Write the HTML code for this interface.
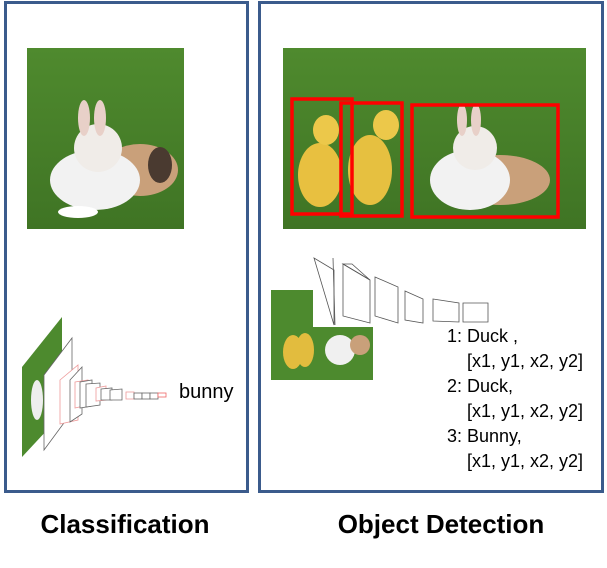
<!DOCTYPE html>
<html><head><meta charset="utf-8"><style>
body{margin:0;width:607px;height:563px;background:#fff;overflow:hidden;font-family:"Liberation Sans",sans-serif}
</style></head><body>
<svg width="607" height="563" xmlns="http://www.w3.org/2000/svg" font-family="Liberation Sans, sans-serif">
<defs>
<linearGradient id="g" x1="0" y1="0" x2="0" y2="1"><stop offset="0" stop-color="#4f8a2e"/><stop offset="1" stop-color="#3f7424"/></linearGradient>
</defs>
<rect x="5.5" y="2.5" width="242" height="489" fill="none" stroke="#3b5b8c" stroke-width="3"/>
<rect x="259.5" y="2.5" width="343" height="489" fill="none" stroke="#3b5b8c" stroke-width="3"/>
<!-- rabbit photo -->
<rect x="27" y="48" width="157" height="181" fill="url(#g)"/>
<ellipse cx="140" cy="170" rx="38" ry="26" fill="#c9a07a"/>
<ellipse cx="160" cy="165" rx="12" ry="18" fill="#4a3a30"/>
<ellipse cx="95" cy="180" rx="45" ry="30" fill="#f2f2f2"/>
<ellipse cx="98" cy="148" rx="24" ry="24" fill="#f0ece8"/>
<ellipse cx="84" cy="118" rx="6" ry="18" fill="#e8d0c8"/>
<ellipse cx="100" cy="118" rx="6" ry="18" fill="#e8d0c8"/>
<ellipse cx="78" cy="212" rx="20" ry="6" fill="#fff"/>
<!-- detection photo -->
<rect x="283" y="48" width="303" height="181" fill="url(#g)"/>
<ellipse cx="320" cy="175" rx="22" ry="32" fill="#e8c040"/>
<ellipse cx="326" cy="130" rx="13" ry="15" fill="#ecc84a"/>
<ellipse cx="370" cy="170" rx="22" ry="35" fill="#e6c040"/>
<ellipse cx="386" cy="125" rx="13" ry="15" fill="#ecc84a"/>
<ellipse cx="500" cy="180" rx="50" ry="25" fill="#c9a07a"/>
<ellipse cx="470" cy="180" rx="40" ry="30" fill="#f2f2f2"/>
<ellipse cx="475" cy="148" rx="22" ry="22" fill="#f0ece8"/>
<ellipse cx="462" cy="120" rx="5" ry="16" fill="#e8d0c8"/>
<ellipse cx="476" cy="120" rx="5" ry="16" fill="#e8d0c8"/>
<g fill="none" stroke="#ff0000" stroke-width="3.5">
<rect x="292" y="99" width="60" height="115"/>
<rect x="341" y="103" width="61" height="113"/>
<rect x="412" y="105" width="146" height="112"/>
</g>
<!-- right network -->
<rect x="271" y="290" width="102" height="90" fill="#4d8a2e"/>
<polygon points="313,255 373,255 373,327 313,327" fill="#fff"/>
<ellipse cx="293" cy="352" rx="10" ry="17" fill="#e2bc3e"/>
<ellipse cx="305" cy="350" rx="9" ry="17" fill="#e2bc3e"/>
<ellipse cx="340" cy="350" rx="15" ry="15" fill="#f0f0f0"/>
<ellipse cx="360" cy="345" rx="10" ry="10" fill="#c9a07a"/>
<g fill="none" stroke="#555" stroke-width="0.8">
<polygon points="314,258 334,325 334,270 314,258"/>
<line x1="333" y1="258" x2="335" y2="325"/>
<polygon points="343,264 370,280 370,323 343,316"/><polygon points="343,264 352,264 370,280"/>
<polygon points="375,277 398,287 398,323 375,316"/>
<polygon points="405,291 423,299 423,323 405,320"/>
<polygon points="433,299 459,303 459,322 433,321"/>
<polygon points="463,303 488,303 488,322 463,322"/>
</g>
<g font-size="18" fill="#000">
<text x="447" y="342">1: Duck ,</text>
<text x="467" y="367">[x1, y1, x2, y2]</text>
<text x="447" y="392">2: Duck,</text>
<text x="467" y="417">[x1, y1, x2, y2]</text>
<text x="447" y="442">3: Bunny,</text>
<text x="467" y="467">[x1, y1, x2, y2]</text>
</g>
<!-- left network -->
<polygon points="22,367 62,317 62,414 22,457" fill="#4d8a2e"/>
<ellipse cx="37" cy="400" rx="6" ry="20" fill="#eee"/>
<g fill="#fff" stroke="#666" stroke-width="0.8">
<polygon points="44,375 72,338 72,412 44,450"/>
<polygon points="60,380 78,365 78,420 60,424" stroke="#e99"/>
<polygon points="70,380 82,367 82,414 70,422"/>
<polygon points="75,382 88,380 88,405 75,408" stroke="#e99"/>
<polygon points="80,382 92,380 92,406 80,408"/>
<polygon points="86,384 100,383 100,405 86,407"/>
<polygon points="96,388 106,386 106,400 96,401" stroke="#e99"/>
<polygon points="101,389 112,388 112,400 101,400"/>
<polygon points="110,390 122,389 122,400 110,400"/>
<polygon points="126,392 134,392 134,399 126,399" stroke="#e99"/>
<rect x="134" y="393" width="8" height="6"/>
<rect x="142" y="393" width="8" height="6"/>
<rect x="150" y="393" width="8" height="6"/>
<rect x="158" y="393" width="8" height="4" stroke="#e66"/>
</g>
<text x="179" y="398" font-size="20">bunny</text>
<text x="125" y="533" font-size="26" font-weight="bold" text-anchor="middle">Classification</text>
<text x="441" y="533" font-size="26" font-weight="bold" text-anchor="middle">Object Detection</text>
</svg>
</body></html>
